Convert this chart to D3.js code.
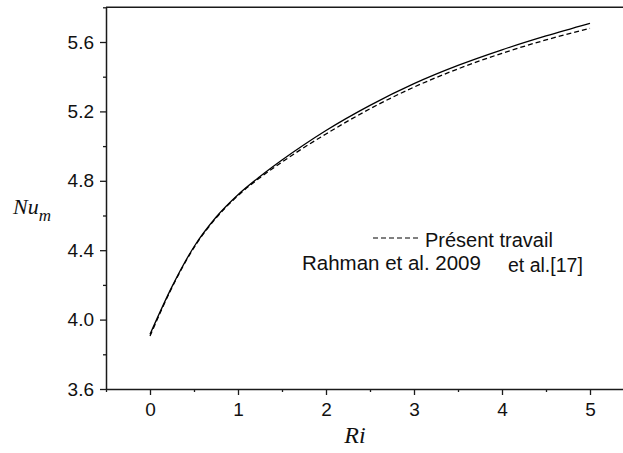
<!DOCTYPE html>
<html>
<head>
<meta charset="utf-8">
<script src="https://cdn.jsdelivr.net/npm/d3@7"></script>
<style>
  html, body { margin: 0; padding: 0; background: #fff; }
  svg { display: block; }
</style>
</head>
<body>
<script>
// Mean Nusselt number versus Richardson number
const ri = [0, 0.25, 0.5, 0.75, 1, 1.25, 1.5, 1.75, 2, 2.5, 3, 3.5, 4, 4.5, 5];
const nuRahman = [3.915, 4.19, 4.42, 4.59, 4.72, 4.825, 4.92, 5.008, 5.09, 5.235, 5.36, 5.465, 5.555, 5.635, 5.708];
const nuPresent = [3.905, 4.185, 4.415, 4.585, 4.715, 4.818, 4.908, 4.992, 5.07, 5.215, 5.34, 5.445, 5.535, 5.612, 5.679];
const xTicks = [0, 1, 2, 3, 4, 5];
const yTicks = [3.6, 4.0, 4.4, 4.8, 5.2, 5.6];

(function draw() {
  const W = 623, H = 453;
  const svg = d3.select("body").append("svg").attr("width", W).attr("height", H);

  const mLeft = 106, mTop = 7.3, mBottom = 389, mRight = 634;
  const x = d3.scaleLinear().domain([-0.5, 5.5]).range([mLeft, mRight]);
  const y = d3.scaleLinear().domain([3.6, 5.8]).range([mBottom, mTop]);

  const ink = "#1a1a1a";
  const font = "Arial, 'Liberation Sans', sans-serif";
  const serif = "'Times New Roman', 'Liberation Serif', serif";

  // top border of the frame
  svg.append("line").attr("x1", mLeft).attr("x2", mRight).attr("y1", mTop).attr("y2", mTop)
    .attr("stroke", ink).attr("stroke-width", 1.5);

  // minor ticks
  const xMinor = d3.range(-0.5, 5.51, 0.5).filter(v => Math.abs(v - Math.round(v)) > 1e-6);
  const yMinor = d3.range(3.8, 5.81, 0.4).map(v => +v.toFixed(1));

  svg.append("g").attr("transform", `translate(0,${mBottom})`)
    .call(d3.axisBottom(x).tickValues(xMinor).tickSize(3).tickFormat(""))
    .call(g => g.select(".domain").remove());
  svg.append("g").attr("transform", `translate(0,${mBottom})`)
    .call(d3.axisBottom(x).tickValues(xTicks).tickSize(6).tickSizeOuter(0).tickPadding(8).tickFormat(d3.format("d")));

  svg.append("g").attr("transform", `translate(${mLeft},0)`)
    .call(d3.axisLeft(y).tickValues(yMinor).tickSize(3).tickFormat(""))
    .call(g => g.select(".domain").remove());
  svg.append("g").attr("transform", `translate(${mLeft},0)`)
    .call(d3.axisLeft(y).tickValues(yTicks).tickSize(6).tickSizeOuter(0).tickPadding(6).tickFormat(d3.format(".1f")));

  svg.selectAll(".domain").attr("stroke", ink).attr("stroke-width", 1.5);
  svg.selectAll(".tick line").attr("stroke", ink).attr("stroke-width", 1.3);
  svg.selectAll(".tick text").attr("fill", "#111")
    .style("font-family", font).style("font-size", "19px");

  // curves
  const line = d3.line().curve(d3.curveMonotoneX);
  const ptsR = ri.map((v, i) => [x(v), y(nuRahman[i])]);
  const ptsP = ri.map((v, i) => [x(v), y(nuPresent[i])]);
  svg.append("path").attr("d", line(ptsR)).attr("fill", "none")
    .attr("stroke", "#000").attr("stroke-width", 1.3);
  svg.append("path").attr("d", line(ptsP)).attr("fill", "none")
    .attr("stroke", "#000").attr("stroke-width", 1.3).attr("stroke-dasharray", "5,3");

  // legend
  svg.append("line").attr("x1", 373).attr("x2", 420).attr("y1", 238).attr("y2", 238)
    .attr("stroke", "#000").attr("stroke-width", 1).attr("stroke-dasharray", "5,3");
  svg.append("text").attr("x", 425).attr("y", 247).text("Présent travail")
    .style("font-family", font).style("font-size", "20px").attr("fill", "#111");
  svg.append("text").attr("x", 302).attr("y", 270).text("Rahman et al. 2009")
    .style("font-family", font).style("font-size", "20.5px").attr("fill", "#111");
  svg.append("text").attr("x", 508).attr("y", 272).text("et al.[17]")
    .style("font-family", font).style("font-size", "19.5px").attr("fill", "#111");

  // axis titles
  svg.append("text").attr("x", 355).attr("y", 443)
    .attr("text-anchor", "middle").text("Ri")
    .style("font-family", serif).style("font-style", "italic").style("font-size", "24px").attr("fill", "#111");
  const nu = svg.append("text").attr("x", 13).attr("y", 214)
    .style("font-family", serif).style("font-style", "italic").style("font-size", "22px").attr("fill", "#111");
  nu.append("tspan").text("Nu");
  nu.append("tspan").attr("dy", 7).style("font-size", "17px").text("m");
})();
</script>
</body>
</html>
